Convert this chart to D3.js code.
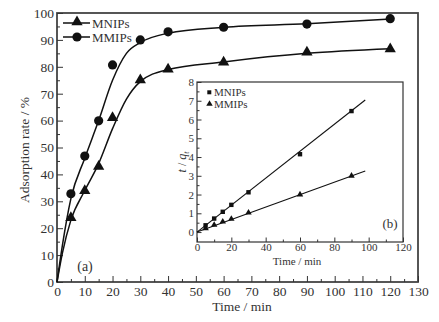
<!DOCTYPE html>
<html lang="en">
<head>
<meta charset="UTF-8">
<title>Adsorption kinetics</title>
<script src="https://cdn.jsdelivr.net/npm/d3@7"></script>
<style>
  body { margin: 0; background: #fff; }
  svg { display: block; font-family: "Liberation Serif", "DejaVu Serif", serif; font-weight: normal; }
</style>
</head>
<body>
<svg width="439" height="322"></svg>
<script>
// main plot data (a)
var times = [5, 10, 15, 20, 30, 40, 60, 90, 120];
var mnips = [23.9, 33.9, 42.9, 61.1, 75.1, 79.1, 81.7, 85.4, 86.6];
var mmips = [32.8, 46.8, 59.9, 80.7, 90.0, 93.0, 94.7, 95.9, 97.9];
// fitted curves
var fitTimes = [0, 2, 5, 10, 15, 20, 25, 30, 40, 60, 90, 120];
var mnipsFit = [0, 11, 23, 34, 44, 57, 68, 74.5, 79, 81.8, 85, 86.7];
var mmipsFit = [0, 14, 31, 46, 60, 75, 85, 89, 92.5, 94.7, 96, 97.8];
var xTicks = d3.range(0, 131, 10);
var yTicks = d3.range(0, 101, 10);

// inset data (b)
var insetTimes = [5, 10, 15, 20, 30, 60, 90];
var insetNips = [0.36, 0.72, 1.08, 1.45, 2.12, 4.15, 6.45];
var insetMips = [0.2, 0.38, 0.55, 0.7, 1.03, 2.0, 3.0];
var insetNipsFit = [[0, 0], [98, 7.04]];
var insetMipsFit = [[0, 0], [98, 3.25]];
var insetXTicks = d3.range(0, 121, 20);
var insetYTicks = d3.range(0, 9, 1);

var svg = d3.select("svg");
var m = {left: 57, top: 13, right: 418, bottom: 282};

var x = d3.scaleLinear().domain([0, 130]).range([m.left, m.right]);
var y = d3.scaleLinear().domain([0, 100]).range([m.bottom, m.top]);

// frame
svg.append("rect")
  .attr("x", m.left).attr("y", m.top)
  .attr("width", m.right - m.left).attr("height", m.bottom - m.top)
  .attr("fill", "none").attr("stroke", "#444").attr("stroke-width", 1.8);

function styleAxis(g, size) {
  g.select(".domain").remove();
  g.selectAll("line").attr("stroke", "#333");
  g.selectAll("text").attr("fill", "#333").style("font-size", size + "px")
    .style("font-family", "'Liberation Serif', serif");
}

// main axes
svg.append("g").attr("transform", "translate(0," + m.bottom + ")")
  .call(d3.axisBottom(x).tickValues(d3.range(5, 130, 10)).tickSize(-3).tickFormat(""))
  .call(styleAxis, 13.5);
svg.append("g").attr("transform", "translate(0," + m.bottom + ")")
  .call(d3.axisBottom(x).tickValues(xTicks).tickSize(-6).tickPadding(4).tickFormat(d3.format("d")))
  .call(styleAxis, 13.5);
svg.append("g").attr("transform", "translate(" + m.left + ",0)")
  .call(d3.axisLeft(y).tickValues(d3.range(5, 100, 10)).tickSize(-3).tickFormat(""))
  .call(styleAxis, 13.5);
svg.append("g").attr("transform", "translate(" + m.left + ",0)")
  .call(d3.axisLeft(y).tickValues(yTicks).tickSize(-6).tickPadding(3).tickFormat(d3.format("d")))
  .call(styleAxis, 13.5);

svg.append("text")
  .attr("transform", "translate(24,150) rotate(-90)")
  .attr("text-anchor", "middle").attr("dy", "0.35em")
  .style("font-size", "13.5px").attr("fill", "#333")
  .text("Adsorption rate / %");
svg.append("text")
  .attr("x", 242).attr("y", 311)
  .attr("text-anchor", "middle")
  .style("font-size", "13.5px").attr("fill", "#333")
  .text("Time / min");

// fitted curves
var line = d3.line().x(function(d) { return x(d[0]); }).y(function(d) { return y(d[1]); })
  .curve(d3.curveMonotoneX);
var nipsPts = fitTimes.map(function(t, i) { return [t, mnipsFit[i]]; });
var mipsPts = fitTimes.map(function(t, i) { return [t, mmipsFit[i]]; });
svg.append("path").datum(nipsPts).attr("d", line)
  .attr("fill", "none").attr("stroke", "#111").attr("stroke-width", 1.5);
svg.append("path").datum(mipsPts).attr("d", line)
  .attr("fill", "none").attr("stroke", "#111").attr("stroke-width", 1.5);

var tri = d3.symbol().type(d3.symbolTriangle).size(55);
svg.append("g").selectAll("path").data(times).enter().append("path")
  .attr("transform", function(d, i) { return "translate(" + x(d) + "," + y(mnips[i]) + ")"; })
  .attr("d", tri).attr("fill", "#111");
svg.append("g").selectAll("circle").data(times).enter().append("circle")
  .attr("cx", function(d) { return x(d); })
  .attr("cy", function(d, i) { return y(mmips[i]); })
  .attr("r", 4.6).attr("fill", "#111");

// main legend
var leg = svg.append("g");
leg.append("line").attr("x1", 63).attr("x2", 90).attr("y1", 23).attr("y2", 23)
  .attr("stroke", "#111").attr("stroke-width", 1.5);
leg.append("path").attr("transform", "translate(77,22)").attr("d", tri).attr("fill", "#111");
leg.append("text").attr("x", 92).attr("y", 23).attr("dy", "0.35em")
  .style("font-size", "13px").attr("fill", "#333").text("MNIPs");
leg.append("line").attr("x1", 63).attr("x2", 90).attr("y1", 37).attr("y2", 37)
  .attr("stroke", "#111").attr("stroke-width", 1.5);
leg.append("circle").attr("cx", 77).attr("cy", 37).attr("r", 4.6).attr("fill", "#111");
leg.append("text").attr("x", 92).attr("y", 37).attr("dy", "0.35em")
  .style("font-size", "13px").attr("fill", "#333").text("MMIPs");

svg.append("text").attr("x", 85).attr("y", 266).attr("text-anchor", "middle").attr("dy", "0.35em")
  .style("font-size", "14px").attr("fill", "#333").text("(a)");

// inset (b)
var b = {left: 197, top: 82, right: 403, bottom: 242};
var ix = d3.scaleLinear().domain([0, 120]).range([b.left, b.right]);
var iy = d3.scaleLinear().domain([-0.53, 8]).range([b.bottom, b.top]);

svg.append("rect")
  .attr("x", b.left).attr("y", b.top)
  .attr("width", b.right - b.left).attr("height", b.bottom - b.top)
  .attr("fill", "#fff").attr("stroke", "#333").attr("stroke-width", 1.2);

svg.append("g").attr("transform", "translate(0," + b.bottom + ")")
  .call(d3.axisBottom(ix).tickValues(d3.range(10, 120, 20)).tickSize(-2.5).tickFormat(""))
  .call(styleAxis, 11);
svg.append("g").attr("transform", "translate(0," + b.bottom + ")")
  .call(d3.axisBottom(ix).tickValues(insetXTicks).tickSize(-4.5).tickPadding(1).tickFormat(d3.format("d")))
  .call(styleAxis, 11);
svg.append("g").attr("transform", "translate(" + b.left + ",0)")
  .call(d3.axisLeft(iy).tickValues(d3.range(0.5, 8, 1)).tickSize(-2.5).tickFormat(""))
  .call(styleAxis, 11);
svg.append("g").attr("transform", "translate(" + b.left + ",0)")
  .call(d3.axisLeft(iy).tickValues(insetYTicks).tickSize(-4.5).tickPadding(3).tickFormat(d3.format("d")))
  .call(styleAxis, 11);

var ylab = svg.append("text")
  .attr("transform", "translate(182," + ((b.top + b.bottom) / 2) + ") rotate(-90)")
  .attr("text-anchor", "middle").attr("dy", "0.35em")
  .style("font-size", "12px").attr("fill", "#333");
ylab.append("tspan").style("font-style", "italic").text("t");
ylab.append("tspan").text(" / ");
ylab.append("tspan").style("font-style", "italic").text("q");
ylab.append("tspan").style("font-style", "italic").style("font-size", "8px").attr("dy", "3").text("t");

svg.append("text").attr("x", 297).attr("y", 265)
  .attr("text-anchor", "middle")
  .style("font-size", "11px").attr("fill", "#333").text("Time / min");

var iline = d3.line().x(function(d) { return ix(d[0]); }).y(function(d) { return iy(d[1]); });
svg.append("path").datum(insetNipsFit).attr("d", iline)
  .attr("fill", "none").attr("stroke", "#111").attr("stroke-width", 1.1);
svg.append("path").datum(insetMipsFit).attr("d", iline)
  .attr("fill", "none").attr("stroke", "#111").attr("stroke-width", 1.1);

svg.append("g").selectAll("rect").data(insetTimes).enter().append("rect")
  .attr("x", function(d) { return ix(d) - 2.2; })
  .attr("y", function(d, i) { return iy(insetNips[i]) - 2.2; })
  .attr("width", 4.4).attr("height", 4.4).attr("fill", "#111");
var smallTri = d3.symbol().type(d3.symbolTriangle).size(18);
svg.append("g").selectAll("path").data(insetTimes).enter().append("path")
  .attr("transform", function(d, i) { return "translate(" + ix(d) + "," + iy(insetMips[i]) + ")"; })
  .attr("d", smallTri).attr("fill", "#111");

// inset legend
svg.append("rect").attr("x", 207.3).attr("y", 90.3).attr("width", 4).attr("height", 4).attr("fill", "#111");
svg.append("text").attr("x", 214).attr("y", 92.5).attr("dy", "0.35em")
  .style("font-size", "11px").attr("fill", "#333").text("MNIPs");
svg.append("path").attr("transform", "translate(209.5,104)").attr("d", smallTri).attr("fill", "#111");
svg.append("text").attr("x", 214).attr("y", 104).attr("dy", "0.35em")
  .style("font-size", "11px").attr("fill", "#333").text("MMIPs");

svg.append("text").attr("x", 390).attr("y", 223).attr("text-anchor", "middle").attr("dy", "0.35em")
  .style("font-size", "13px").attr("fill", "#333").text("(b)");
</script>
</body>
</html>
